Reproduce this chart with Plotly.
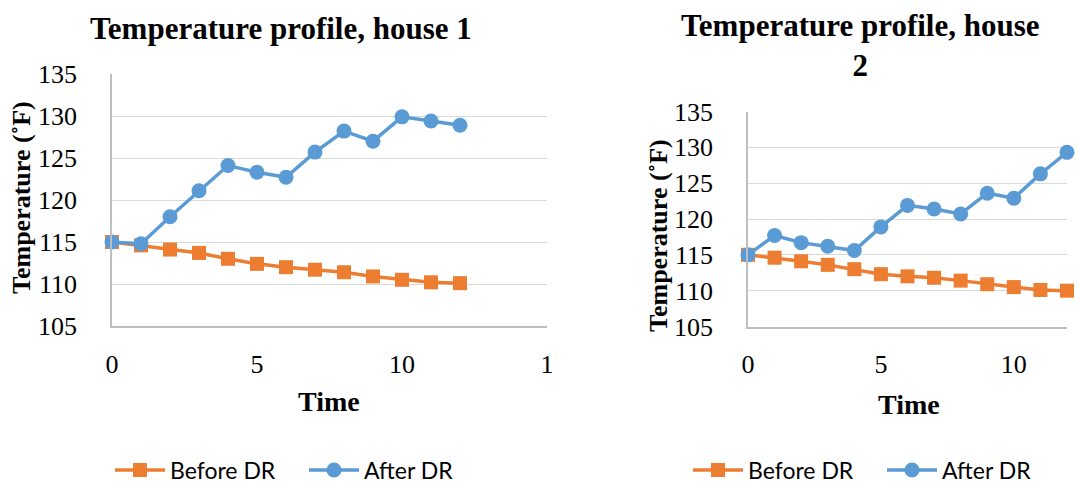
import plotly.graph_objects as go

# Time steps and temperature readings (°F) for each house
time = list(range(13))

house1_before = [115.0, 114.6, 114.1, 113.7, 113.0, 112.4, 112.0, 111.7, 111.4, 110.9, 110.5, 110.2, 110.1]
house1_after = [115.0, 114.8, 118.0, 121.1, 124.1, 123.3, 122.7, 125.7, 128.2, 127.0, 129.9, 129.4, 128.9]

house2_before = [115.0, 114.6, 114.1, 113.6, 113.0, 112.3, 112.0, 111.8, 111.4, 110.9, 110.5, 110.1, 110.0]
house2_after = [115.0, 117.7, 116.7, 116.2, 115.6, 118.9, 121.9, 121.4, 120.7, 123.6, 122.9, 126.3, 129.3]

x1_tickvals = [0, 5, 10, 15]
x1_ticktext = ["0", "5", "10", "1"]
x2_tickvals = [0, 5, 10]
y_tickvals = [105, 110, 115, 120, 125, 130, 135]

series_names = ["Before DR", "After DR"]
titles = ["Temperature profile, house 1", "Temperature profile, house<br>2"]
x_title = "Time"
y_title = "Temperature (˚F)"

ORANGE = "#ED7D31"
BLUE = "#5B9BD5"
GRID = "#D9D9D9"
AXIS = "#BFBFBF"
SERIF = "Liberation Serif"
W, H = 1078, 497


def px_x(v):
    return v / W


def px_y(v):
    return 1 - v / H


fig = go.Figure()

panels = [
    ("x", "y", "legend", house1_before, house1_after),
    ("x2", "y2", "legend2", house2_before, house2_after),
]
for xa, ya, lg, before, after in panels:
    fig.add_trace(go.Scatter(
        x=time, y=before, name=series_names[0], xaxis=xa, yaxis=ya, legend=lg,
        mode="lines+markers", cliponaxis=False,
        line=dict(color=ORANGE, width=3.5),
        marker=dict(symbol="square", size=14, color=ORANGE),
    ))
    fig.add_trace(go.Scatter(
        x=time, y=after, name=series_names[1], xaxis=xa, yaxis=ya, legend=lg,
        mode="lines+markers", cliponaxis=False,
        line=dict(color=BLUE, width=3.5),
        marker=dict(symbol="circle", size=15, color=BLUE),
    ))

tick_font = dict(family=SERIF, size=26, color="black")

common_x = dict(
    showgrid=False, zeroline=False, showline=True, linecolor=AXIS, linewidth=1.5,
    ticks="", tickfont=tick_font, ticklabelstandoff=14, automargin=False,
)
common_y = dict(
    showgrid=True, gridcolor=GRID, gridwidth=1.3, zeroline=False,
    showline=True, linecolor=AXIS, linewidth=1.5, ticks="",
    tickfont=tick_font, tickvals=y_tickvals, range=[105, 135],
    ticklabelstandoff=28, automargin=False,
)

legend_style = dict(
    orientation="h", xanchor="left", yanchor="middle",
    font=dict(family="Lato", size=23, color="black"),
    itemwidth=50, entrywidth=129, entrywidthmode="pixels",
    bgcolor="rgba(0,0,0,0)",
)

fig.update_layout(
    width=W, height=H,
    margin=dict(l=0, r=0, t=0, b=0, autoexpand=False),
    paper_bgcolor="white", plot_bgcolor="white",
    xaxis=dict(common_x, domain=[px_x(112), px_x(547)], range=[0, 15],
               tickvals=x1_tickvals, ticktext=x1_ticktext, anchor="y"),
    yaxis=dict(common_y, domain=[px_y(326), px_y(74)], anchor="x"),
    xaxis2=dict(common_x, domain=[px_x(748), px_x(1067)], range=[0, 12],
                tickvals=x2_tickvals, anchor="y2"),
    yaxis2=dict(common_y, domain=[px_y(326.5), px_y(111.5)], anchor="x2"),
    legend=dict(legend_style, x=px_x(110), y=px_y(470)),
    legend2=dict(legend_style, x=px_x(688), y=px_y(470)),
    showlegend=True,
)

annotations = [
    dict(text="<b>%s</b>" % titles[0], x=px_x(281), y=px_y(28), size=31),
    dict(text="<b>%s</b>" % titles[1], x=px_x(860), y=px_y(45), size=31),
    dict(text="<b>%s</b>" % x_title, x=px_x(329), y=px_y(401), size=28),
    dict(text="<b>%s</b>" % x_title, x=px_x(909), y=px_y(404), size=28),
    dict(text="<b>%s</b>" % y_title, x=px_x(22), y=px_y(198), size=26, textangle=-90),
    dict(text="<b>%s</b>" % y_title, x=px_x(658), y=px_y(236), size=26, textangle=-90),
]
for a in annotations:
    size = a.pop("size")
    fig.add_annotation(xref="paper", yref="paper", showarrow=False,
                       xanchor="center", yanchor="middle",
                       font=dict(family=SERIF, size=size, color="black"), **a)

fig.write_html("out.html")
